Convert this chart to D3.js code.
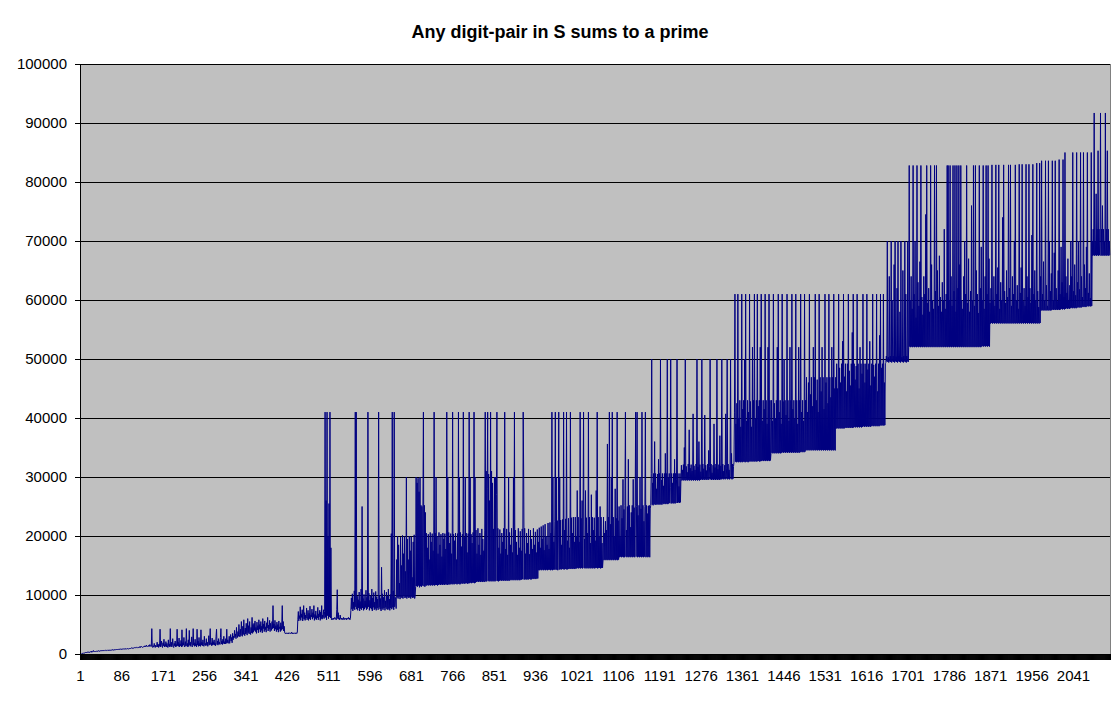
<!DOCTYPE html>
<html><head><meta charset="utf-8">
<script src="https://cdn.jsdelivr.net/npm/d3@7"></script>
<style>
body{margin:0;background:#fff}
svg{display:block}
text{font-family:Arial,"Liberation Sans",sans-serif}
</style>
</head><body>
<svg id="chart" width="1115" height="703"></svg>
<script>
const chartTitle = "Any digit-pair in S sums to a prime";
const yTicks = [0,10000,20000,30000,40000,50000,60000,70000,80000,90000,100000];
const xTickLabels = [1,86,171,256,341,426,511,596,681,766,851,936,1021,1106,1191,1276,1361,1446,1531,1616,1701,1786,1871,1956,2041];
const UNIT = 100; // values below are read in hundreds
const seg01 = [0,0,0,0,1,1,1,2,1,2, 2,3,2,3,2,3,4,3,2,3, 3,4,3,5,3,4,4,6,4,5, 4,5,4,5,5,4,5,6,5,4, 5,6,5,5,6,5,6,5,6,6, 5,6,7,6,5,6,7,6,6,7, 6,7,6,7,7,6,7,8,7,6, 7,8,7,7,8,7,8,7,8,8, 7,8,9,8,7,8,9,8,8,9, 8,9,8,9,9,8,9,10,9,8, 9,10,9,10,9,10,11,10,9,10, 10,11,10,11,10,11,12,11,10,11, 11,12,11,13,11,12,13,12,11,12, 12,13,12,14,12,13,15,13,12,13, 13,15,13,16,13,14,13];
const seg02 = [43,12,11,14,12,18,13,11,15,12, 14,20,12,16,11,17,13,42,12,15, 22,13,11,19,14,25,12,16,13,21, 12,18,14,11,24,13,17,12,43,13, 20,12,15,26,13,11,18,14,22,12, 16,13,42,14,20,13,27,12,17,14, 23,12,41,13,19,15,28,12,14,21, 13,43,14,18,12,24,13,40,15,20, 13,16,29,12,14,43,15,19,13,25, 14,17,12,42,15,22,13,28,14,18, 13,41,15,20,14,24,16,13,30,15, 18,14,26,15,20,13,17,31,15,22, 43,16,19,14,27,15,21,16,24,15, 18,14,30,42,16,22,15,26,17,20, 16,28,43,17,22,16,25,18,30,17, 21,17,26,18,42,19,24,18];
const seg03 = [20,30,18,25,33,22,28,19,35,24, 30,27,40,29,34,26,45,31,28,38, 30,50,33,29,42,31,55,34,30,47, 33,58,36,31,44,34,52,35,32,60, 36,48,34,55,38,33,45,36,62,35,50];
const seg04 = [37,52,40,56,38,45,35,54,41,48, 36,58,42,50,37,55,40,47,36,60, 43,51,38,56,41,46,37,53,44,62, 39,49,42,57,38,52,45,40,55,43, 82,44,51,39,57,42,48,38,54,41, 50,37,56,43,46,38,53,40,49,82, 42,55,39,47,36];
const seg05 = [35,34,36,35,34,35,36,34,35,36, 35,34,35,37,35,34,36,35,34,35, 36,35,34,36,35,37];
const seg06 = [58,72,56,65,60,80,57,68,62,75, 56,63,82,59,70,57,66,61,78,58, 64,74,57,69,60,81,58,66,63,76, 59,70,62,82,57,67,60,73,58,65, 61,79,58,68,63,74,57,71,60,82, 59,66,62,75];
const seg07 = [60,72,410,62,260,58,410,65,200,60,255,63,410,61,180,58];
const seg08 = [59,60,58,61,59,60,62,59,60,58, 75,109,60,70,59,61,58,66,60,59, 61,58,60,59,62,58,60,61,59,60, 58,61,59,60,62,59,61,58,60];
const seg09 = [74,95,76,102,73,88,77,107,75,410, 80,410,76,98,74,92,78,105,73,89, 77,110,75,250,78,94,74,101,76,90, 79,108,75,96,77,410,80,103,74,91, 78,99,76,110,73,95,79,104,75,88, 77,106,74,97,78,93,75,410,79,100, 76,94,73,147,77,102,75,96,78,108, 74,90,79,105,76,98,75,110,77,93, 74,101,78,204,76,410,79,107,75,410, 80,96];
const seg10 = [95,77,160,96,200,94,185,97,120,93, 198,96,150,95,201,94,170,98,199,95, 140,96,300,94,195,97,160,95,200,96, 175,94,199,97,130,95,190,96,202,94, 98];
const seg11 = [114,300,115,290,114,298,116,275,113,300, 115,252,114,250,116,248,410,115,252,114,240];
const seg12 = [116,205,116,180,117,203,116,160,117,206, 116,190,117,204,116,175,117,410,116,205, 117,300,117,200,116,170,117,206,118,185, 117,203,118,165,117,205,118,195,117,204, 118,178,118,410,117,300,118,206,118,188, 118,204,119,170,118,410,119,203,118,192, 119,205,119,160,118,204,119,410,119,300, 118,206,119,182,120,203,119,410,120,198, 119,300,120,205,120,172,119,204,120,410, 120,300,121,203,120,188,121,206,121,410, 120,300,121];
const seg13 = [210,122,170,123,213,122,185,123,205,122, 168,123,212,122,195,123,175,122,210,410, 123,310,123,280,410,124,305,123,260,124, 410,123,310,124,290,123,212,124,300,123, 300,124,270,410,124,213,123,180,124,211, 125,170,124,205,125,190,124,213,125,410, 124,178,125,212,124,168,125,300,124,206, 125,185,126,213,125,172,126,300,125,410, 126,210,125,190,126,168,125,213,126,180, 125,208,126,175,126,212,127,410,300,126, 213,127,170,126,205,127,188,126,212,127, 169,127,210,126,195,127,178,128,213,127, 185,128,207,127,172,128,211,128,190];
const seg14 = [142,214,142,180,143,216,142,195,143,218, 142,176,143,220,142,200,143,185,142,222, 143,178,143,223,142,205,143,410,142,300, 143,190,143,224,410,143,300,143,226,142, 198,410,143,300,144,227,143,185,144,228, 144,410,143,210,144,229,144,410,143,192, 144,230,144,180,145,410,144,231,145,205, 144,232,145,190,144,232];
const seg15 = [145,200,145,277,146,232,145,190,146,410, 145,230,146,260,145,232,410,146,195,145, 277,146,231,145,205,146,410,145,232,146, 188,145,270,146,232,145,210,146,231,145, 192,146,277,146,410,145,232,146,200,146, 250,145,232,146,188,146];
const seg16 = [159,232,159,205,160,225,159,210,160,356, 159,232,160,410,159,220,160,300,159,410, 160,232,159,200,160,280,159,230,160,410, 159,226,160];
const seg17 = [250,164,200,165,252,164,230,165,296,164, 245,164,252,410,165,210,164,250,165,330, 164,252,165,215,164,240,165,252,164,296, 165,248,164,252,410,165,250,410,164,235, 165,252,164,300,165,246,164,410,165,252, 164,225,165,250,410,164,252,165,238,164, 251,165,252,164,246];
const seg18 = [252,306,500,253,290,252,306,254,360,253, 306,253,280,254,305,253,330,254,306,253, 500,254,295,253,306,255,285,254,306,255, 340,254,306,255,500,254,300,255,306,256, 282,500,255,306,256,290,255,306,256,330, 255,306,256,295,500,256,306,257,284,256, 306,257];
const seg19 = [295,320,294,312,295,321,294,350,295,500, 294,318,295,308,294,322,295,380,294,315, 295,321,294,310,295,407,294,319,295,312, 294,322,295,500,294,317,295,360,294,321, 295,309,296,500,295,322,296,314,295,405, 296,320,295,311,296,322,295,345,296,318, 500,296,322,295,307,296,320,295,390,296, 316,295,322,296,500,295,313,296,321,295, 370,296,319,296,500,297,322,296,310,297, 320,296,407,297,315,500,296,322,297,312, 296,321,500,297,340,296,322,297,318];
const seg20 = [325,410,610,326,390,325,425,326,610,325, 400,326,430,325,385,326,610,325,415,326, 430,326,500,325,610,326,395,326,430,325, 410,326,610,327,428,326,385,327,520,326, 430,327,610,326,400,327,430,326,610,327, 420,327,430,326,520,327,610,327,395,328, 430,327,415,328,610,327,430,328,390,327, 520,328,610,327,430,328];
const seg21 = [340,430,341,395,340,610,341,425,340,400, 341,430,340,520,341,610,340,410,341,430, 340,390,341,610,342,428,341,500,342,430, 341,405,342,610,341,430,342,395,341,520, 342,430,341,610,342,415,341,430,342,400, 341,610,342,430,341,390,342,520,341,430, 342,610,343,410,342,430,343,395,342,610, 343,430];
const seg22 = [345,469,346,410,345,460,346,610,345,440, 346,469,345,420,346,520,345,469,346,610, 345,430,346,465,345,410,346,610,345,469, 346,445,345,520,346,469,345,415,346,610, 345,460,346,469,345,425,346,610,345,469, 346,435,345,520,346,469,345,610,346,450, 345,469];
const seg23 = [382,492,383,450,382,610,383,485,382,460, 383,492,382,530,383,610,382,470,383,492, 384,445,383,492,384,610,383,480,384,455, 383,492,384,545,383,610,384,492,385,465, 384,488,385,610,384,492,385,450,384,520, 385,492,384,475,385,610,386,492,385,460, 386,492,385,610,386,482,385,492,386,530, 385,455,386,492,387,610,386,490,387,470, 386,492,387,610,386,445,387,492,386,540, 387,610,388,485,387,492,388,610,387,460, 388,492];
const seg24 = [494,505,496,700,495,503,494,640,496,505, 495,700,494,600,496,505,495,660,494,700, 496,504,495,620,494,700,496,505,495,580, 494,700,496,503,495,650,494,505,496,700, 495,610,494,505,496,700,495];
const seg25 = [520,828,521,600,520,640,521,585,520,828, 521,610,520,700,521,570,520,828,521,630, 520,590,521,665,520,828,521,605,520,575, 521,640,520,610,521,745,520,828,521,595, 520,620,521,580,520,828,521,660,520,600, 521,585,520,828,521,615,520,828,521,650, 520,590,521,675,520,605,521,580,520,630, 521,600,520,720,521,585,520,610,521,828, 520,828,521,600,520,828,521,640,520,590, 521,828,520,615,521,828,520,580,521,828, 520,620,521,828,520,660,521,828,520,600, 521,585,520,640,521,700,520,610,521,828, 520,595,521,670,520,580,521,615,520,760, 521,600,520,828,521,590,520,828,521,650, 520,610,521,578,520,828,521,620,520,690, 521,600,522,828,521,585,522,640,521,828, 522,610,521,828,522,670,521,595];
const seg26 = [560,620,561,829,560,600,561,640,560,590, 561,829,560,610,561,655,560,829,561,585, 560,630,561,600,560,740,561,829,560,615, 561,595,560,650,561,605,560,829,561,620, 560,829,561,590,560,640,561,610,560,700, 561,829,560,600,561,625,560,585,561,830, 560,612,561,655,560,830,561,598,560,620, 561,590,560,830,561,640,560,605,561,830, 560,620,561,595,560,710,561,830,560,610, 561,650,560,600,561,832,560,615,561,588, 560,832,561];
const seg27 = [640,582,836,583,610,582,665,583,600,582, 836,583,625,582,590,583,836,582,700,583, 615,582,645,583,836,584,600,583,680,584, 836,583,620,584,598,583,650,584,838,583, 610,584,690,585,630,584,838,585,605,584, 850,585,640,586,612,585,670,586,600,585, 625,586,700,587,640,586,850,587,615,586, 660,587,608,586,850,587,630,588,700,587, 618,588,850,587,640,588,605,589,850,588, 660,589,620,588,690,589,850,590,612,589, 645,590,603,589,850,590,700];
const seg28 = [675,720,676,917,675,700,676,780,675,720, 676,853,675,720,676,700,917,675,720,676, 760,675,720,676,700,675,917,676,720,675, 853,676,720,675,700,676];

const values = [].concat(seg01,seg02,seg03,seg04,seg05,seg06,seg07,seg08,seg09,seg10,seg11,seg12,seg13,seg14,seg15,seg16,seg17,seg18,seg19,seg20,seg21,seg22,seg23,seg24,seg25,seg26,seg27,seg28).map(v => v * UNIT);
const categories = d3.range(1, values.length + 1);

const svg = d3.select("#chart");
const W = 1115, H = 703;
const M = {left: 80, right: 5, top: 64, bottom: 49};
const pw = W - M.left - M.right, ph = H - M.top - M.bottom;

svg.append("rect").attr("width", W).attr("height", H).attr("fill", "#fff");

const x = d3.scaleBand().domain(categories).range([M.left, M.left + pw]).padding(0);
const xc = d => x(d) + x.bandwidth() / 2;
const y = d3.scaleLinear().domain([0, 100000]).range([M.top + ph, M.top]);

// plot area
svg.append("rect").attr("x", M.left).attr("y", M.top).attr("width", pw).attr("height", ph)
  .attr("fill", "#c0c0c0").attr("stroke", "#808080").attr("stroke-width", 1).attr("shape-rendering", "crispEdges");

// gridlines
svg.append("g").attr("transform", `translate(${M.left},0)`)
  .call(d3.axisLeft(y).tickValues(yTicks.filter(v => v > 0)).tickSize(-pw).tickFormat(""))
  .call(g => g.select(".domain").remove())
  .call(g => g.selectAll("line").attr("stroke", "#000").attr("shape-rendering", "crispEdges"));

// series line
const line = d3.line().x((d, i) => xc(categories[i])).y(d => y(d));
svg.append("path").datum(values).attr("d", line)
  .attr("fill", "none").attr("stroke", "#000080").attr("stroke-width", 1).attr("stroke-linejoin", "miter");

// y axis
const yAxis = svg.append("g").attr("transform", `translate(${M.left},0)`)
  .call(d3.axisLeft(y).tickValues(yTicks).tickSize(5).tickPadding(8).tickFormat(d3.format("d")));
yAxis.select(".domain").attr("stroke", "#000").attr("shape-rendering", "crispEdges");
yAxis.selectAll("line").attr("stroke", "#000").attr("shape-rendering", "crispEdges");
yAxis.selectAll("text").attr("font-size", 15).attr("fill", "#000").attr("font-family", "Arial, 'Liberation Sans', sans-serif");

// x axis tick marks (every category)
const xTicks = svg.append("g").attr("transform", `translate(0,${M.top + ph})`)
  .call(d3.axisBottom(x).tickValues(categories).tickSize(6).tickFormat(""));
xTicks.select(".domain").attr("stroke", "#000").attr("shape-rendering", "crispEdges");
xTicks.selectAll("line").attr("stroke", "#000");

// x axis labels
const xLab = svg.append("g").attr("transform", `translate(0,${M.top + ph})`)
  .call(d3.axisBottom(x).tickValues(xTickLabels).tickSize(0).tickPadding(16));
xLab.select(".domain").remove();
xLab.selectAll("text").attr("font-size", 15).attr("fill", "#000").attr("font-family", "Arial, 'Liberation Sans', sans-serif");

// title
svg.append("text").attr("x", 560).attr("y", 38).attr("text-anchor", "middle")
  .attr("font-size", 18).attr("font-weight", "bold").attr("fill", "#000").text(chartTitle);
</script>
</body></html>
